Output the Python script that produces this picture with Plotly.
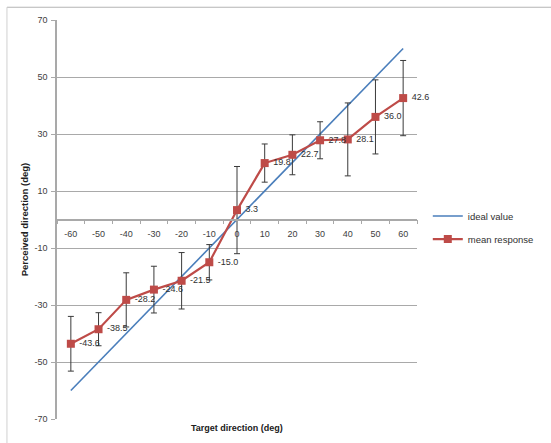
import plotly.graph_objects as go

# ---- data ----
target_dirs = [-60, -50, -40, -30, -20, -10, 0, 10, 20, 30, 40, 50, 60]
ideal_values = [-60, -50, -40, -30, -20, -10, 0, 10, 20, 30, 40, 50, 60]
mean_response = [-43.6, -38.5, -28.2, -24.6, -21.5, -15.0, 3.3, 19.8, 22.7, 27.8, 28.1, 36.0, 42.6]
error_sd = [9.6, 5.8, 9.5, 8.2, 9.9, 6.2, 15.3, 6.7, 7.0, 6.5, 12.8, 13.0, 13.2]
y_ticks = [-70, -50, -30, -10, 10, 30, 50, 70]
x_ticks = [-60, -50, -40, -30, -20, -10, 0, 10, 20, 30, 40, 50, 60]
x_minor_ticks = [-65, -55, -45, -35, -25, -15, -5, 5, 15, 25, 35, 45, 55, 65]

FONT = "Liberation Sans"
GRID = "#a9a9a9"
TXT = "#404040"

fig = go.Figure()

fig.add_trace(go.Scatter(
    x=target_dirs, y=ideal_values, mode="lines", name="ideal value",
    line=dict(color="#4A7EBB", width=1.6), legendgroup="a",
))

fig.add_trace(go.Scatter(
    x=target_dirs, y=mean_response, mode="lines+markers+text", name="mean response",
    line=dict(color="#BE4B48", width=2.2),
    marker=dict(symbol="square", size=8, color="#BE4B48"),
    text=[f" {v:.1f}" for v in mean_response],
    textposition="middle right",
    textfont=dict(family=FONT, size=9, color="#303030"),
    cliponaxis=False,
    error_y=dict(type="data", array=error_sd, visible=True, color="#3a3a3a", thickness=1, width=3),
    legendgroup="b",
))

fig.update_layout(
    width=551, height=443,
    margin=dict(l=57, r=119, t=20, b=24),
    paper_bgcolor="white", plot_bgcolor="white",
    font=dict(family=FONT, size=9, color=TXT),
    showlegend=True,
    legend=dict(x=1.03, y=0.545, xanchor="left", yanchor="top",
                bgcolor="rgba(0,0,0,0)", font=dict(family=FONT, size=9.5, color="#303030"),
                tracegroupgap=4),
    xaxis=dict(
        range=[-65, 65], anchor="free", position=0.5,
        tickmode="array", tickvals=x_ticks, ticktext=[str(v) for v in x_ticks],
        ticks="", showgrid=False, zeroline=False,
        showline=True, linecolor=GRID, linewidth=1.5,
        tickfont=dict(family=FONT, size=9, color=TXT),
        minor=dict(tickmode="array", tickvals=x_minor_ticks, ticks="outside",
                   ticklen=4, tickcolor=GRID, tickwidth=1, showgrid=False),
        ticklabelstandoff=6,
    ),
    yaxis=dict(
        range=[-70, 70], tickmode="array", tickvals=y_ticks,
        ticktext=[str(v) for v in y_ticks],
        ticks="outside", ticklen=4, tickcolor=GRID,
        showgrid=True, gridcolor=GRID, gridwidth=1, zeroline=False,
        showline=True, linecolor=GRID, linewidth=1.5,
        tickfont=dict(family=FONT, size=9, color=TXT),
        ticklabelstandoff=2,
        title=dict(text="<b>Perceived direction (deg)</b>",
                   font=dict(family=FONT, size=9.5, color="#202020"), standoff=4),
    ),
    annotations=[dict(
        text="<b>Target direction (deg)</b>", xref="x", x=0, yref="paper", y=0,
        yanchor="middle", yshift=-9, showarrow=False,
        font=dict(family=FONT, size=9, color="#202020"),
    )],
    shapes=[
        dict(type="line", xref="paper", yref="paper", x0=-0.139, x1=1.4, y0=1.032, y1=1.032,
             line=dict(color="#b5b5b5", width=1.2)),
        dict(type="line", xref="paper", yref="paper", x0=-0.139, x1=-0.139, y0=1.032, y1=-0.1,
             line=dict(color="#d0d0d0", width=1)),
    ],
)

fig.write_html("out.html")
